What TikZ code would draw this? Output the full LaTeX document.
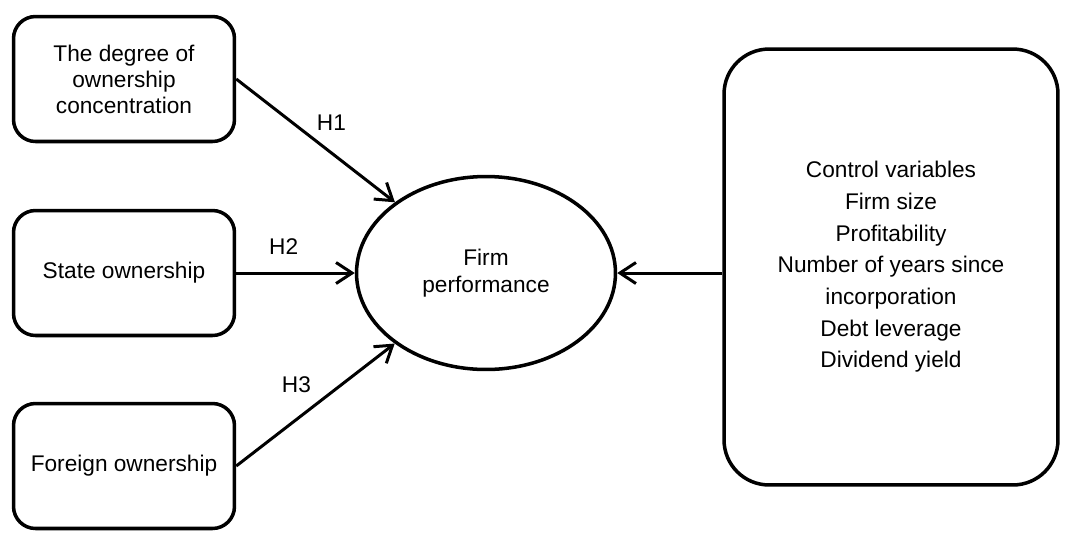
\documentclass[tikz,border=0pt]{standalone}
\usepackage{fontspec}
\setmainfont{Liberation Sans}
\usetikzlibrary{arrows.meta,positioning,shapes.geometric}

\begin{document}
\begin{tikzpicture}[x=0.02cm,y=-0.02cm,
  box/.style={draw,line width=2pt,rounded corners=0.44cm,align=center,font=\fontsize{12.9}{14.8}\selectfont,minimum width=4.42cm,minimum height=2.5cm,inner sep=2pt},
  ctrl/.style={box,rounded corners=0.9cm,minimum width=6.68cm,minimum height=8.72cm,font=\fontsize{12.9}{18}\selectfont},
  perf/.style={draw,ellipse,line width=2pt,align=center,font=\fontsize{12.9}{15.4}\selectfont,minimum width=5.18cm,minimum height=3.86cm,inner sep=0pt},
  lbl/.style={font=\fontsize{12.9}{14}\selectfont,inner sep=0pt},
  arr/.style={-{Straight Barb[length=3.2mm,width=4.2mm,line width=1.7pt]},line width=1.7pt}]
\useasboundingbox (0,0) rectangle (1068,542);
\node[box] (conc) at (124,79) {The degree of\\ownership\\concentration};
\node[box] (state) at (124,273) {State ownership};
\node[box] (foreign) at (124,466) {Foreign ownership};
\node[perf] (firm) at (486,273) {Firm\\performance};
\node[ctrl] (ctrl) at (891,267) {Control variables\\Firm size\\Profitability\\Number of years since\\incorporation\\Debt leverage\\Dividend yield};
\draw[arr] (conc.east) -- node[lbl,pos=0.6,above=0.42cm]{H1} (firm);
\draw[arr] (state.east) -- node[lbl,pos=0.4,above=0.34cm]{H2} (firm.west);
\draw[arr] (foreign.east) -- node[lbl,pos=0.38,above=0.5cm]{H3} (firm);
\draw[arr] (ctrl.west |- firm.east) -- (firm.east);
\end{tikzpicture}
\end{document}
